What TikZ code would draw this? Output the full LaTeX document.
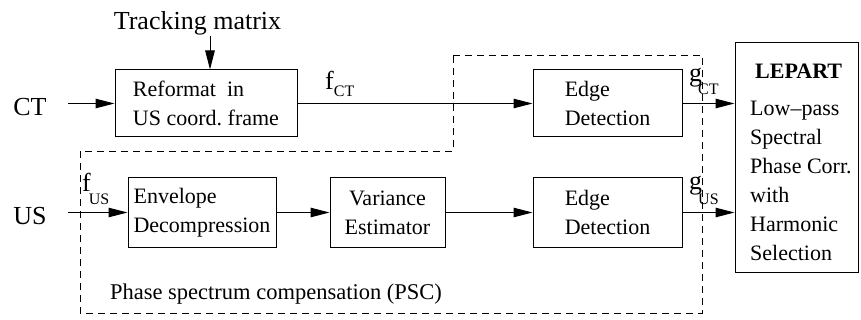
\documentclass[tikz,border=0pt]{standalone}
\usepackage{fontspec}
\setmainfont{Liberation Serif}
\usetikzlibrary{arrows.meta,calc}

% signal name with a lowered subscript: {letter}{subscript}{drop}{kern}
\newcommand\siglabel[4]{#1\hspace{#4}\raisebox{-#3}{\fontsize{16}{16}\selectfont #2}}

\tikzset{
  blk/.style={draw, line width=1pt, inner sep=0pt, align=left,
              font=\fontsize{22}{29}\selectfont},
  arr/.style={line width=1pt, -{Triangle[length=19pt,width=9.5pt]}},
  psc/.style={draw, line width=0.9pt, dash pattern=on 7pt off 5pt},
  lbl/.style={inner sep=0pt, font=\fontsize{26}{26}\selectfont},
  io/.style={inner sep=0pt, font=\fontsize{26}{26}\selectfont},
  sig/.style={inner sep=0pt, anchor=base west, font=\fontsize{26}{26}\selectfont},
}

\begin{document}
\begin{tikzpicture}[x=1pt,y=-1pt]
\useasboundingbox (0,0) rectangle (861,320);

% phase spectrum compensation region
\draw[psc] (453,55) -- (702,55) -- (702,313) -- (80,313) -- (80,151) -- (453,151) -- cycle;
\node[anchor=base, inner sep=0pt, font=\fontsize{22.5}{22.5}\selectfont] (psclabel) at (276,299)
  {Phase spectrum compensation (PSC)};

% processing blocks
\node[blk, minimum width=182pt, minimum height=67pt] (reformat) at (206,103.5)
  {Reformat\ \ in\\US coord.\ frame};
\node[blk, minimum width=149pt, minimum height=67pt] (edgeA) at (607.5,103.5)
  {Edge\\Detection};
\node[blk, minimum width=148pt, minimum height=69pt] (env) at (202,212.5)
  {Envelope\\Decompression};
\node[blk, minimum width=115pt, minimum height=69pt, align=center] (var) at (387.5,212.5)
  {Variance\\Estimator};
\node[blk, minimum width=149pt, minimum height=69pt] (edgeB) at (607.5,212.5)
  {Edge\\Detection};

% registration block
\node[draw, line width=1pt, minimum width=123pt, minimum height=229pt] (lepart) at (796.5,157.5) {};
\node[anchor=north west, inner sep=0pt, align=left, font=\fontsize{22}{29}\selectfont]
  (lepartText) at (750,63.4)
  {\hspace*{5pt}\textbf{LEPART}\\[8pt]Low--pass\\Spectral\\Phase Corr.\\with\\Harmonic\\Selection};

% inputs
\node[io, anchor=base] (ct) at (30,116) {CT};
\node[io, anchor=base] (us) at (30,225) {US};
\node[lbl, anchor=base] (track) at (197.5,30) {Tracking matrix};
\coordinate (ctStart) at (68,103.5);
\coordinate (usStart) at (68,212.5);
\coordinate (tin) at ($(reformat.north)+(4,0)$);

% connectors
\draw[arr] (ctStart) -- (reformat.west);
\draw[arr] (track.south -| tin) -- (tin);
\draw[arr] (reformat.east) -- (edgeA.west);
\draw[arr] (edgeA.east) -- (edgeA.east -| lepart.west);
\draw[arr] (usStart) -- (env.west);
\draw[arr] (env.east) -- (var.west);
\draw[arr] (var.east) -- (edgeB.west);
\draw[arr] (edgeB.east) -- (edgeB.east -| lepart.west);

% signal names
\node[sig] (fct) at (325,90) {\siglabel{f}{CT}{7pt}{0pt}};
\node[sig] (gct) at (689,82) {\siglabel{g}{CT}{13pt}{-4pt}};
\node[sig] (fus) at (82,192) {\siglabel{f}{US}{13pt}{-2pt}};
\node[sig] (gus) at (689,190) {\siglabel{g}{US}{15pt}{-4pt}};
\end{tikzpicture}
\end{document}
